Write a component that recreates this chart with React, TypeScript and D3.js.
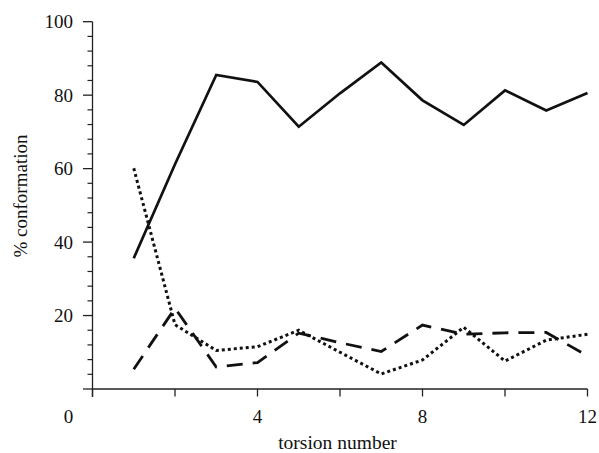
import React from "react";
import * as d3 from "d3";

const torsion = [1, 2, 3, 4, 5, 6, 7, 8, 9, 10, 11, 12];
const solidSeries = [35.6, 61.2, 85.5, 83.6, 71.4, 80.5, 88.9, 78.6, 71.9, 81.3, 75.8, 80.6];
const dottedSeries = [60.1, 17.5, 10.5, 11.5, 16.0, 10.0, 4.1, 7.9, 16.8, 7.6, 13.3, 14.9];
const dashedSeries = [5.4, 22.0, 6.0, 7.2, 15.2, 12.6, 10.2, 17.4, 14.9, 15.3, 15.4, 9.0];
const yMajorTicks = [0, 20, 40, 60, 80, 100];
const yLabelTicks = [20, 40, 60, 80, 100];
const xTicks = [0, 2, 4, 6, 8, 10, 12];
const xLabelTicks = [0, 4, 8, 12];

const W = 599;
const H = 453;
const FONT = "'Liberation Serif', 'Times New Roman', serif";

export default function App() {
  const x = d3.scaleLinear().domain([0, 12]).range([92.5, 587.5]);
  const y = d3.scaleLinear().domain([0, 100]).range([389, 21.7]);
  const yMinor = d3.range(0, 101, 4).filter((v) => v % 20 !== 0);

  const line = d3
    .line<number>()
    .x((_, i) => x(torsion[i]))
    .y((d) => y(d));

  const axisColor = "#222";
  const ink = "#111";

  return (
    <svg
      width={W}
      height={H}
      style={{ position: "absolute", left: 0, top: 0, background: "#fff" }}
    >
      <rect x={0} y={0} width={W} height={H} fill="#fff" />
      {/* y axis */}
      <line x1={x(0)} x2={x(0)} y1={y(100)} y2={y(0) + 8} stroke={axisColor} strokeWidth={1.3} />
      {yMajorTicks.map((v) => (
        <line key={"ym" + v} x1={x(0) - 9.5} x2={x(0)} y1={y(v)} y2={y(v)} stroke={axisColor} strokeWidth={1.3} />
      ))}
      {yMinor.map((v) => (
        <line key={"yn" + v} x1={x(0) - 5} x2={x(0)} y1={y(v)} y2={y(v)} stroke={axisColor} strokeWidth={1.2} />
      ))}
      {yLabelTicks.map((v) => (
        <text
          key={"yl" + v}
          x={73}
          y={y(v)}
          dy="0.35em"
          textAnchor="end"
          fontFamily={FONT}
          fontSize={19}
          fill={ink}
        >
          {v}
        </text>
      ))}
      {/* x axis */}
      <line x1={x(0)} x2={x(12)} y1={y(0)} y2={y(0)} stroke={axisColor} strokeWidth={1.3} />
      {xTicks.map((v) => (
        <line key={"xt" + v} x1={x(v)} x2={x(v)} y1={y(0)} y2={y(0) + 7.5} stroke={axisColor} strokeWidth={1.3} />
      ))}
      {xLabelTicks.map((v) => (
        <text
          key={"xl" + v}
          x={v === 0 ? x(v) - 24 : x(v)}
          y={423}
          textAnchor="middle"
          fontFamily={FONT}
          fontSize={19}
          fill={ink}
        >
          {v}
        </text>
      ))}
      <text x={337.5} y={449} textAnchor="middle" fontFamily={FONT} fontSize={19.5} fill={ink}>
        torsion number
      </text>
      <text
        transform="translate(26.5,196) rotate(-90)"
        textAnchor="middle"
        fontFamily={FONT}
        fontSize={19}
        fill={ink}
      >
        % conformation
      </text>
      {/* series */}
      <path d={line(solidSeries) || ""} fill="none" stroke={ink} strokeWidth={2.7} strokeLinejoin="miter" />
      <path
        d={line(dottedSeries) || ""}
        fill="none"
        stroke={ink}
        strokeWidth={3}
        strokeDasharray="3 3"
      />
      <path
        d={line(dashedSeries) || ""}
        fill="none"
        stroke={ink}
        strokeWidth={2.8}
        strokeDasharray="16 10"
      />
    </svg>
  );
}
